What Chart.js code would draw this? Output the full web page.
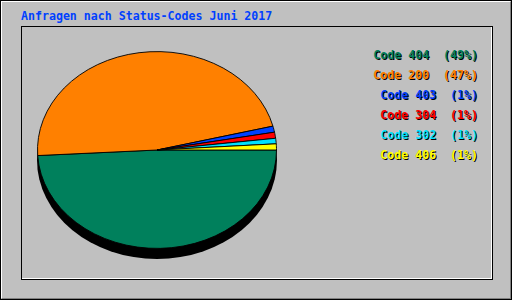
<!DOCTYPE html>
<html>
<head>
<meta charset="utf-8">
<script src="https://cdn.jsdelivr.net/npm/chart.js@4/dist/chart.umd.min.js"></script>
<style>
  html, body { margin:0; padding:0; background:#c0c0c0; }
  #outer { position:absolute; left:0; top:0; width:512px; height:300px; box-sizing:border-box;
           border:1px solid #000; background:#c0c0c0; overflow:hidden; }
  #bevel { position:absolute; left:0; top:0; right:0; bottom:0;
           border-top:1px solid #fff; border-left:1px solid #fff;
           border-right:1px solid #808080; border-bottom:1px solid #808080; }
  #frame { position:absolute; left:20px; top:25px; width:472px; height:254px; box-sizing:border-box;
           border:1px solid #000; }
  #frame div { position:absolute; left:0; top:0; right:0; bottom:0;
               border-right:1px solid #fff; border-bottom:1px solid #fff; }
  .mono { font-family:"DejaVu Sans Mono", monospace; font-weight:bold; font-size:11.6px; white-space:pre; }
  #title { position:absolute; left:20px; top:8px; line-height:14px; color:#0040ff; }
  #legend { position:absolute; right:33px; top:44px; text-align:right; line-height:20px;
            text-shadow:1px 1px 0 #000; }
  #pie { position:absolute; left:36px; top:29px; }
</style>
</head>
<body>
<div id="outer">
  <div id="bevel"></div>
  <div id="frame"><div></div></div>
  <div id="title" class="mono">Anfragen nach Status-Codes Juni 2017</div>
  <div id="legend" class="mono"></div>
  <canvas id="pie" width="240" height="240"></canvas>
</div>
<script>
const codes = ['Code 404', 'Code 200', 'Code 403', 'Code 304', 'Code 302', 'Code 406'];
const percentLabels = ['49%', '47%', '1%', '1%', '1%', '1%'];
const shares = [49.1, 47.0, 1.0, 1.0, 0.9, 1.0];
const colors = ['#00805c', '#ff8000', '#0040ff', '#ff0000', '#00e0ff', '#ffff00'];

const SQUASH = 98 / 119;   // ellipse: vertical / horizontal radius
const DEPTH = 10;          // black side of the "3d" pie

// legend as plain text lines, right aligned
const legend = document.getElementById('legend');
codes.forEach((c, i) => {
  const d = document.createElement('div');
  d.textContent = c + '  (' + percentLabels[i] + ')';
  d.style.color = colors[i];
  legend.appendChild(d);
});

const flatPie = {
  id: 'flatPie',
  beforeDatasetsDraw(chart) {
    const arc = chart.getDatasetMeta(0).data[0];
    if (!arc) return;
    const { x, y, outerRadius } = arc;
    const ctx = chart.ctx;
    ctx.save();
    ctx.fillStyle = '#000';
    ctx.beginPath();
    ctx.ellipse(x, y + DEPTH, outerRadius + 0.5, outerRadius * SQUASH + 0.5, 0, 0, Math.PI * 2);
    ctx.fill();
    ctx.translate(x, y);
    ctx.scale(1, SQUASH);
    ctx.translate(-x, -y);
  },
  afterDatasetsDraw(chart) {
    chart.ctx.restore();
  }
};

new Chart(document.getElementById('pie'), {
  type: 'pie',
  data: {
    labels: codes,
    datasets: [{ data: shares, backgroundColor: colors, borderColor: '#000', borderWidth: 1 }]
  },
  options: {
    responsive: false,
    animation: false,
    rotation: 90,
    layout: { padding: 0 },
    plugins: { legend: { display: false }, tooltip: { enabled: false } }
  },
  plugins: [flatPie]
});
</script>
</body>
</html>
